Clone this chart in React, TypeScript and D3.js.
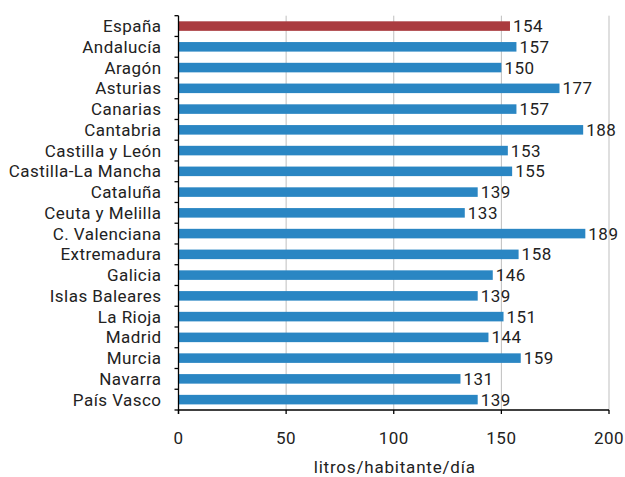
import React from "react";
import * as d3 from "d3";

const categories = [
  "España", "Andalucía", "Aragón", "Asturias", "Canarias", "Cantabria",
  "Castilla y León", "Castilla-La Mancha", "Cataluña", "Ceuta y Melilla",
  "C. Valenciana", "Extremadura", "Galicia", "Islas Baleares", "La Rioja",
  "Madrid", "Murcia", "Navarra", "País Vasco",
];
const values = [154, 157, 150, 177, 157, 188, 153, 155, 139, 133, 189, 158, 146, 139, 151, 144, 159, 131, 139];
const xTicks = [0, 50, 100, 150, 200];
const axisTitle = "litros/habitante/día";

export default function App() {
  const W = 625, H = 477;
  const left = 178.5, right = 609, top = 15.7, bottom = 410;
  const x = d3.scaleLinear().domain([0, 200]).range([left, right]);
  const y = d3.scaleBand<string>().domain(categories).range([top, bottom]).paddingInner(0.54).paddingOuter(0.27);
  const band = (bottom - top) / categories.length;
  const font = "Roboto, 'Open Sans', sans-serif";
  const ink = "#222";
  return (
    <svg width={W} height={H} style={{ position: "absolute", left: 0, top: 0, background: "#fff" }} fontFamily={font}>
      {xTicks.filter(t => t > 0).map(t => (
        <line key={"g" + t} x1={x(t)} x2={x(t)} y1={top} y2={bottom} stroke="#bfbfbf" strokeWidth={1} />
      ))}
      {categories.map((c, i) => (
        <rect key={c} x={x(0)} y={y(c)!} width={x(values[i]) - x(0)} height={y.bandwidth()}
          fill={i === 0 ? "#AA3B3F" : "#2A86C3"} />
      ))}
      {categories.map((c, i) => (
        <text key={"v" + c} x={x(values[i]) + 3} y={y(c)! + y.bandwidth() / 2} dy="0.36em" fontSize={17} letterSpacing={0.5} fill={ink}>{values[i]}</text>
      ))}
      {categories.map((c, i) => (
        <text key={"l" + c} x={left - 17} y={top + band * (i + 0.5)} dy="0.36em" textAnchor="end" fontSize={17} letterSpacing={0.45} fill={ink}>{c}</text>
      ))}
      <line x1={left} x2={left} y1={top} y2={bottom + 4} stroke="#000" strokeWidth={1.3} />
      {d3.range(categories.length + 1).map(i => (
        <line key={"yt" + i} x1={left - 4} x2={left} y1={top + band * i} y2={top + band * i} stroke="#000" strokeWidth={1.3} />
      ))}
      <line x1={left} x2={right} y1={bottom} y2={bottom} stroke="#000" strokeWidth={1.3} />
      {xTicks.map(t => (
        <g key={"xt" + t}>
          <line x1={x(t)} x2={x(t)} y1={bottom} y2={bottom + 4} stroke="#000" strokeWidth={1.3} />
          <text x={x(t)} y={bottom + 34} textAnchor="middle" fontSize={17} letterSpacing={0.5} fill={ink}>{t}</text>
        </g>
      ))}
      <text x={(left + right) / 2 + 1} y={H - 4} textAnchor="middle" fontSize={17} letterSpacing={0.8} fill={ink}>{axisTitle}</text>
    </svg>
  );
}
